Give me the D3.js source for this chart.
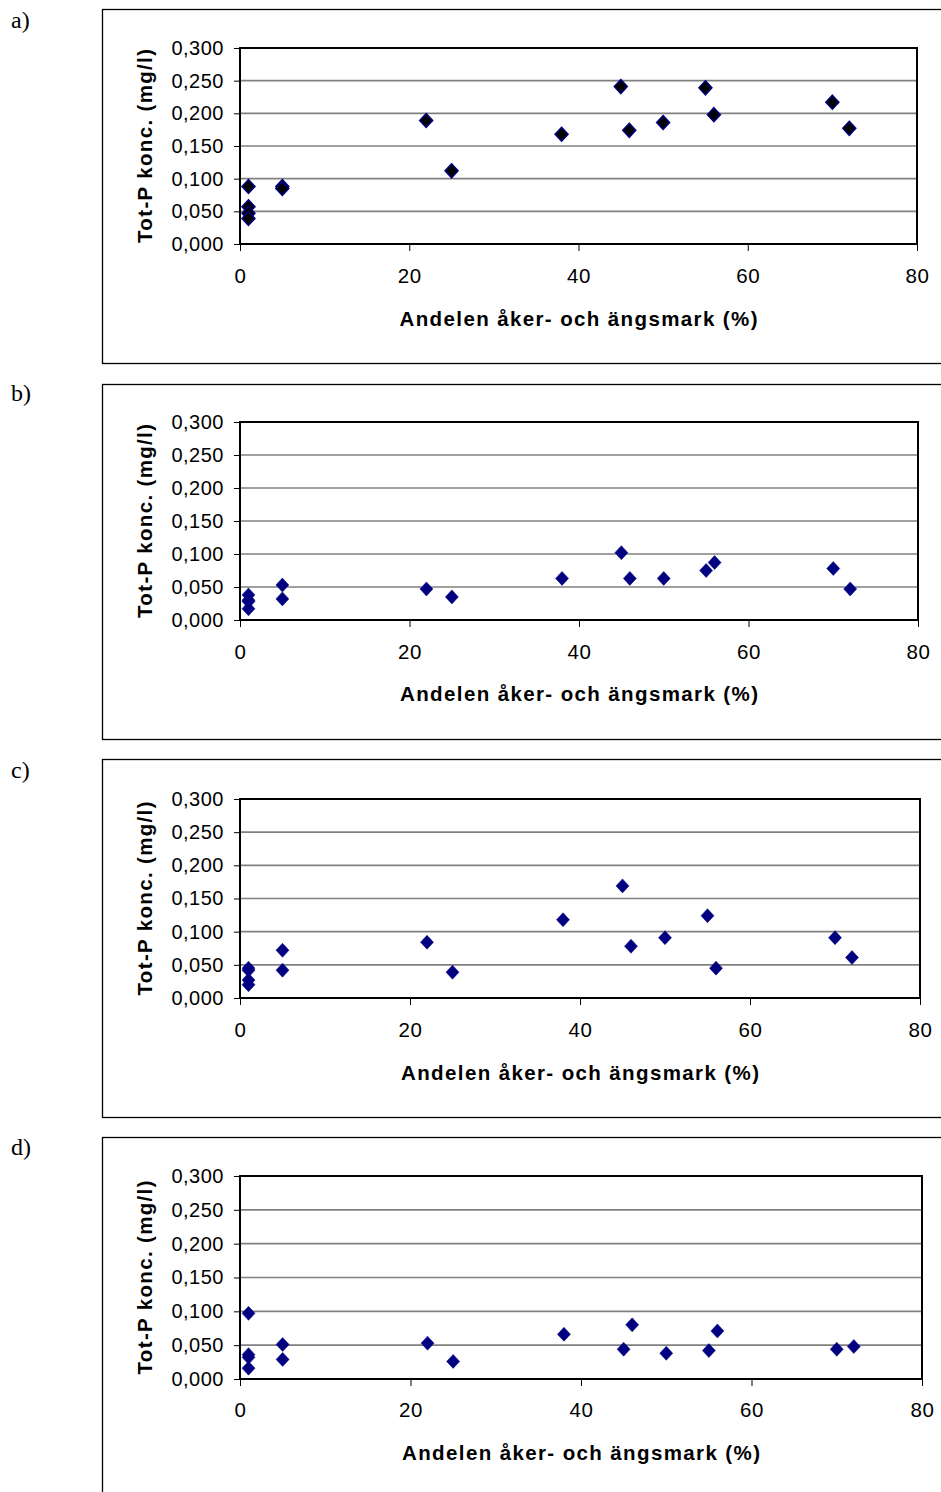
<!DOCTYPE html>
<html>
<head>
<meta charset="utf-8">
<script src="https://cdn.jsdelivr.net/npm/d3@7"></script>
<style>
html,body{margin:0;padding:0;background:#fff;}
svg{display:block;}
</style>
</head>
<body>
<svg id="chart" width="941" height="1492"></svg>
<script>
// Data
const panelLabels = ["a)", "b)", "c)", "d)"];
const landShare = [1, 1, 1, 1, 5, 5, 22, 25, 38, 45, 46, 50, 55, 56, 70, 72];
const totPA = [0.088, 0.057, 0.047, 0.039, 0.088, 0.085, 0.189, 0.112, 0.168, 0.241, 0.174, 0.186, 0.239, 0.198, 0.217, 0.177];
const totPB = [0.038, 0.030, 0.028, 0.017, 0.053, 0.032, 0.047, 0.035, 0.063, 0.102, 0.063, 0.063, 0.075, 0.087, 0.078, 0.047];
const totPC = [0.045, 0.042, 0.027, 0.020, 0.072, 0.042, 0.084, 0.039, 0.118, 0.169, 0.078, 0.091, 0.124, 0.045, 0.091, 0.061];
const totPD = [0.097, 0.036, 0.032, 0.016, 0.051, 0.029, 0.053, 0.026, 0.066, 0.044, 0.080, 0.038, 0.042, 0.071, 0.044, 0.048];
const xTicks = [0, 20, 40, 60, 80];
const yTicks = [0, 0.05, 0.10, 0.15, 0.20, 0.25, 0.30];
const xTitle = "Andelen åker- och ängsmark (%)";
const yTitle = "Tot-P konc. (mg/l)";

const series = [totPA, totPB, totPC, totPD];

// Layout (per panel)
const layout = [
  {box:[9, 363], plot:[240, 917, 48, 244], label:20, xt:276, title:319, fill:"#000000"},
  {box:[384, 739], plot:[240, 918, 422, 620], label:393, xt:652, title:694, fill:"#000080"},
  {box:[759, 1117], plot:[240, 920, 799, 998], label:770, xt:1030, title:1073, fill:"#000080"},
  {box:[1137, 1500], plot:[240, 922, 1176, 1379], label:1147, xt:1410, title:1453, fill:"#000080"}
];

const svg = d3.select("#chart");
const fmt = v => d3.format(".3f")(v).replace(".", ",");

layout.forEach((L, i) => {
  const g = svg.append("g");
  // panel letter
  g.append("text").attr("x", 11).attr("y", L.label).attr("dy", "0.35em")
    .attr("font-family", "Liberation Serif, Times New Roman, serif")
    .attr("font-size", 24).attr("fill", "#000").text(panelLabels[i]);
  // outer box
  g.append("rect").attr("x", 102.5).attr("y", L.box[0] + 0.5)
    .attr("width", 1000).attr("height", L.box[1] - L.box[0])
    .attr("fill", "none").attr("stroke", "#000").attr("stroke-width", 1.3);

  const [x0, x1, y0, y1] = L.plot;
  const x = d3.scaleLinear().domain([0, 80]).range([x0, x1]);
  const y = d3.scaleLinear().domain([0, 0.3]).range([y1, y0]);

  // gridlines
  g.append("g").selectAll("line").data(yTicks.filter(t => t > 0 && t < 0.3)).join("line")
    .attr("x1", x0).attr("x2", x1).attr("y1", d => y(d)).attr("y2", d => y(d))
    .attr("stroke", "#808080").attr("stroke-width", 1.6);

  // axes
  const yAxis = d3.axisLeft(y).tickValues(yTicks).tickFormat(fmt).tickSize(6).tickPadding(10);
  const ya = g.append("g").attr("transform", `translate(${x0},0)`).call(yAxis);
  ya.select(".domain").remove();
  ya.selectAll("line").attr("stroke", "#000");
  ya.selectAll("text").attr("font-family", "Liberation Sans, Arial, sans-serif")
    .attr("font-size", 20).attr("letter-spacing", 0.5).attr("fill", "#000");

  const xAxis = d3.axisBottom(x).tickValues(xTicks).tickFormat(d3.format("d")).tickSize(7).tickPadding(0);
  const xa = g.append("g").attr("transform", `translate(0,${y1})`).call(xAxis);
  xa.select(".domain").remove();
  xa.selectAll("line").attr("stroke", "#000");
  xa.selectAll("text").attr("y", L.xt - y1).attr("dy", "0.35em")
    .attr("font-family", "Liberation Sans, Arial, sans-serif")
    .attr("font-size", 20.5).attr("letter-spacing", 0.5).attr("fill", "#000");

  // plot border
  g.append("rect").attr("x", x0).attr("y", y0).attr("width", x1 - x0).attr("height", y1 - y0)
    .attr("fill", "none").attr("stroke", "#000").attr("stroke-width", 2);

  // titles
  g.append("text").attr("x", (x0 + x1) / 2 - 0).attr("y", L.title).attr("dy", "0.35em")
    .attr("text-anchor", "middle").attr("font-family", "Liberation Sans, Arial, sans-serif")
    .attr("font-weight", "bold").attr("font-size", 20.5).attr("textLength", 358)
    .attr("lengthAdjust", "spacing").attr("fill", "#000").text(xTitle);
  g.append("text").attr("transform", `translate(145,${(y0 + y1) / 2}) rotate(-90)`)
    .attr("dy", "0.35em").attr("text-anchor", "middle")
    .attr("font-family", "Liberation Sans, Arial, sans-serif")
    .attr("font-weight", "bold").attr("font-size", 20.5).attr("textLength", 194)
    .attr("lengthAdjust", "spacing").attr("fill", "#000").text(yTitle);

  // points
  const data = landShare.map((s, k) => ({x: s, y: series[i][k]}));
  const diamond = "M0,-7L6.5,0L0,7L-6.5,0Z";
  g.append("g").selectAll("path").data(data).join("path")
    .attr("d", diamond)
    .attr("transform", d => `translate(${x(d.x)},${y(d.y)})`)
    .attr("fill", L.fill).attr("stroke", "#000080").attr("stroke-width", i === 0 ? 1.5 : 0.5);
});
</script>
</body>
</html>
